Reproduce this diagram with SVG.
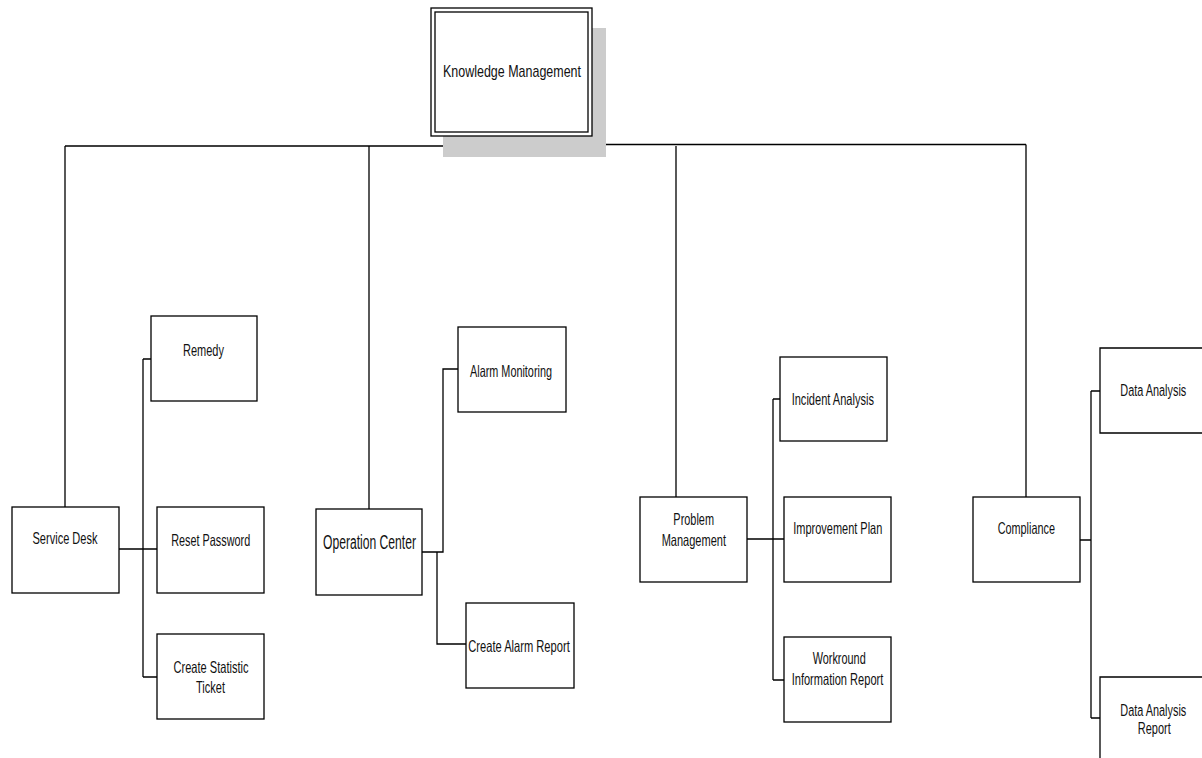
<svg xmlns="http://www.w3.org/2000/svg" width="1202" height="758" viewBox="0 0 1202 758">
<style>
.box{fill:#fff;stroke:#000;stroke-width:1.3}
.ln{fill:none;stroke:#000;stroke-width:1.3}
.t{font-family:"Liberation Sans",Arial,sans-serif;font-size:16.5px;fill:#111;text-anchor:middle}
</style>
<rect width="1202" height="758" fill="#fff"/>
<g id="connectors">
<path class="ln" d="M65,146 H511 M511,144.5 H1026 M506,136 V146 M511,136 V157"/>
<path class="ln" d="M65,146 V507 M369,146 V509 M676,146 V497 M1026,144.5 V497"/>
<path class="ln" d="M119,549 H157 M143,359 V677 M143,359 H151 M143,677 H157"/>
<path class="ln" d="M422,552 H443 V369 H458 M437,552 V644 H466"/>
<path class="ln" d="M747,539 H784 M773,399 V680 M773,399 H780 M773,680 H784"/>
<path class="ln" d="M1080,540 H1091 M1091,391 V718 M1091,391 H1100 M1091,718 H1100"/>
</g>
<g id="knowledge-management">
<rect x="443" y="28" width="163" height="129" fill="#cccccc"/>
<rect class="box" x="431" y="8" width="161" height="128"/>
<rect class="ln" x="435" y="12" width="153" height="120"/>
<text class="t" x="512" y="77" style="font-size:17px" textLength="138" lengthAdjust="spacingAndGlyphs">Knowledge Management</text>
</g>
<g id="service-desk">
<rect class="box" x="12" y="507" width="107" height="86"/>
<text class="t" x="65" y="544" textLength="65" lengthAdjust="spacingAndGlyphs">Service Desk</text>
</g>
<g id="remedy">
<rect class="box" x="151" y="316" width="106" height="85"/>
<text class="t" x="203.5" y="355.5" textLength="41" lengthAdjust="spacingAndGlyphs">Remedy</text>
</g>
<g id="reset-password">
<rect class="box" x="157" y="507" width="107" height="86"/>
<text class="t" x="210.7" y="545.5" textLength="79" lengthAdjust="spacingAndGlyphs">Reset Password</text>
</g>
<g id="create-statistic-ticket">
<rect class="box" x="157" y="634" width="107" height="85"/>
<text class="t" x="211" y="673" textLength="75" lengthAdjust="spacingAndGlyphs">Create Statistic</text>
<text class="t" x="210.5" y="693" textLength="29" lengthAdjust="spacingAndGlyphs">Ticket</text>
</g>
<g id="operation-center">
<rect class="box" x="316" y="509" width="106" height="86"/>
<text class="t" x="369.5" y="549" style="font-size:20px" textLength="93" lengthAdjust="spacingAndGlyphs">Operation Center</text>
</g>
<g id="alarm-monitoring">
<rect class="box" x="458" y="327" width="108" height="85"/>
<text class="t" x="511" y="376.5" textLength="82" lengthAdjust="spacingAndGlyphs">Alarm Monitoring</text>
</g>
<g id="create-alarm-report">
<rect class="box" x="466" y="603" width="108" height="85"/>
<text class="t" x="519" y="651.5" textLength="101.5" lengthAdjust="spacingAndGlyphs">Create Alarm Report</text>
</g>
<g id="problem-management">
<rect class="box" x="640" y="497" width="107" height="85"/>
<text class="t" x="693.7" y="524.7" textLength="40.7" lengthAdjust="spacingAndGlyphs">Problem</text>
<text class="t" x="693.8" y="546" textLength="64.3" lengthAdjust="spacingAndGlyphs">Management</text>
</g>
<g id="incident-analysis">
<rect class="box" x="780" y="357" width="107" height="84"/>
<text class="t" x="832.8" y="404.7" textLength="82.3" lengthAdjust="spacingAndGlyphs">Incident Analysis</text>
</g>
<g id="improvement-plan">
<rect class="box" x="784" y="497" width="107" height="85"/>
<text class="t" x="837.8" y="534.3" textLength="89" lengthAdjust="spacingAndGlyphs">Improvement Plan</text>
</g>
<g id="workround-information-report">
<rect class="box" x="784" y="637" width="107" height="85"/>
<text class="t" x="839.2" y="663.7" textLength="53" lengthAdjust="spacingAndGlyphs">Workround</text>
<text class="t" x="837.5" y="685.3" textLength="91.7" lengthAdjust="spacingAndGlyphs">Information Report</text>
</g>
<g id="compliance">
<rect class="box" x="973" y="497" width="107" height="85"/>
<text class="t" x="1026.3" y="534.3" textLength="57.3" lengthAdjust="spacingAndGlyphs">Compliance</text>
</g>
<g id="data-analysis">
<path class="box" d="M1203,348 H1100 V433 H1203"/>
<text class="t" style="font-size:10.9px" transform="translate(1153.3,396.3) scale(1,1.5)" x="0" y="0">Data Analysis</text>
</g>
<g id="data-analysis-report">
<path class="box" d="M1203,677 H1100 V759"/>
<text class="t" style="font-size:10.9px" transform="translate(1153.3,715.7) scale(1,1.5)" x="0" y="0">Data Analysis</text>
<text class="t" x="1154.3" y="734" textLength="33" lengthAdjust="spacingAndGlyphs">Report</text>
</g>
</svg>
